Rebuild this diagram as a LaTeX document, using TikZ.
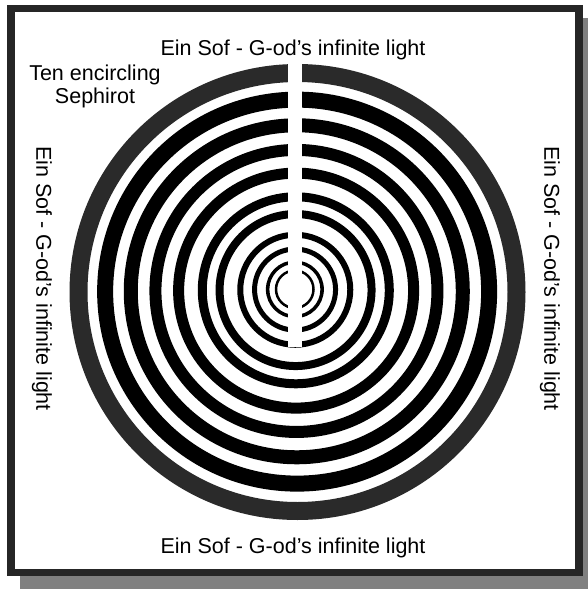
\documentclass[tikz,border=0pt]{standalone}
\usepackage{fontspec}
\setmainfont{Liberation Sans}
\definecolor{framec}{HTML}{262626}
\definecolor{shadowc}{HTML}{808080}
\definecolor{outerring}{HTML}{2A2A2A}
\begin{document}
\begin{tikzpicture}[x=1pt,y=-1pt,
  lbl/.style={font=\fontsize{21.5}{23}\selectfont, inner sep=0pt, align=center},
  ringfill/.style={fill=black, even odd rule}]
\useasboundingbox (0,0) rectangle (588,589);
\fill[white] (0,0) rectangle (588,589);
% shadow and frame
\fill[shadowc] (20,18) rectangle (588,589);
\fill[framec] (7,5) rectangle (583,576);
\fill[white] (15,12) rectangle (575,569);
% outer grey ring
\fill[outerring, even odd rule] (297.5,292) circle[radius=228pt] circle[radius=210pt];
% ten black rings
\foreach \ro/\ri in {200/184, 173/159, 147/135, 123/112, 98/89, 80/72, 58/52, 43/38, 29/25.5, 20/17.5} {
  \pgfmathsetmacro\cx{294.5+3*\ro/228}
  \pgfmathsetmacro\cy{289+3*\ro/228}
  \fill[ringfill] (\cx,\cy) circle[radius=\ro pt] circle[radius=\ri pt];
}
% vertical slit
\fill[white] (287.5,50) rectangle (301.5,347);
% labels
\node[lbl, anchor=base] (toplbl) at (293,55) {Ein Sof - G-od’s infinite light};
\node[lbl, anchor=base] (botlbl) at (293,553) {Ein Sof - G-od’s infinite light};
\node[lbl, rotate=-90] (leftlbl) at (42,278.5) {Ein Sof - G-od’s infinite light};
\node[lbl, rotate=-90] (rightlbl) at (550,278.5) {Ein Sof - G-od’s infinite light};
\node[lbl, anchor=north] (tenlbl) at (95,64.5) {Ten encircling\\Sephirot};
\end{tikzpicture}
\end{document}
